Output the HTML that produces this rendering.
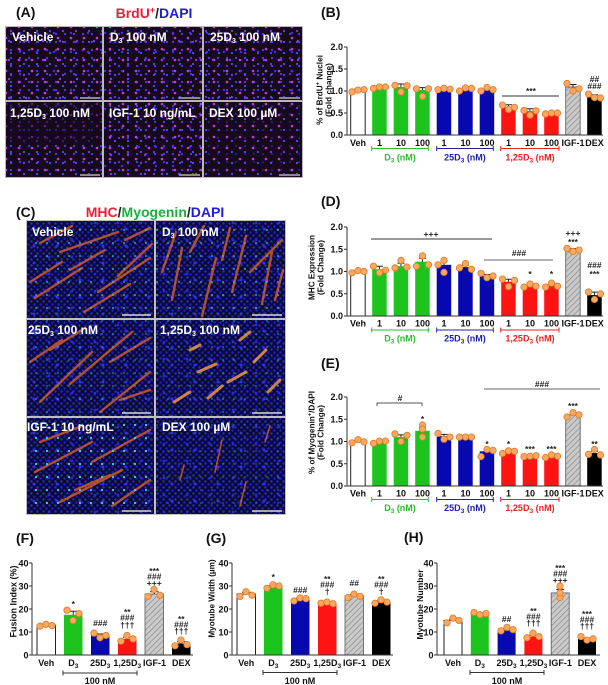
<!DOCTYPE html>
<html><head><meta charset="utf-8"><style>
html,body{margin:0;padding:0;background:#fff;}
svg{display:block;}
text{font-family:"Liberation Sans",Arial,sans-serif;font-weight:bold;}
.tk{font-size:9px;fill:#111;}
.tl{font-size:9px;fill:#111;text-anchor:end;}
.an{font-size:8.5px;fill:#222;text-anchor:middle;}
.wl{font-size:12px;fill:#fff;}
.pl{font-size:14px;fill:#111;}
.yl{font-size:8.2px;fill:#111;text-anchor:middle;}
.pt circle{fill:#f8a860;stroke:#e07a28;stroke-width:0.8;}
.ax{stroke:#333;stroke-width:1;fill:none;}
.st{stroke:#d8602c;stroke-width:2.4;stroke-linecap:round;fill:none;opacity:0.8;}
</style></head><body>
<svg xmlns="http://www.w3.org/2000/svg" width="608" height="685" viewBox="0 0 608 685">
<defs>
<pattern id="pa1" width="9" height="8" patternUnits="userSpaceOnUse"><circle cx="2" cy="2" r="1.1" fill="#4a3cff"/></pattern>
<pattern id="pa2" width="13" height="11" patternUnits="userSpaceOnUse"><circle cx="6" cy="5" r="1.3" fill="#c83ad0"/><circle cx="11" cy="9" r="1.1" fill="#5a44ff"/></pattern>
<pattern id="pa3" width="17" height="19" patternUnits="userSpaceOnUse"><circle cx="9" cy="3" r="1.2" fill="#7a38e8"/><circle cx="3" cy="14" r="1.2" fill="#3a30f0"/></pattern>
<pattern id="pc1" width="6" height="6" patternUnits="userSpaceOnUse"><rect width="6" height="6" fill="#0a0a34"/><circle cx="1.5" cy="1.5" r="1.2" fill="#2a2ae6"/><circle cx="4.5" cy="4.5" r="1.2" fill="#2222cc"/></pattern>
<pattern id="pc3" width="23" height="17" patternUnits="userSpaceOnUse"><circle cx="11" cy="8" r="1.5" fill="#3030f0"/><circle cx="3" cy="2" r="1.4" fill="#2828e0"/></pattern>
<pattern id="pc2" width="11" height="13" patternUnits="userSpaceOnUse"><circle cx="3" cy="9" r="1.1" fill="#40d8c8"/></pattern>
<pattern id="hatch" width="4" height="4" patternUnits="userSpaceOnUse" patternTransform="rotate(45)"><rect width="4" height="4" fill="#cacaca"/><line x1="0" y1="0" x2="0" y2="4" stroke="#8a8a8a" stroke-width="1.4"/></pattern>
</defs>

<!-- ===== Panel A ===== -->
<text class="pl" x="16" y="17">(A)</text>
<text x="154" y="18" font-size="14" text-anchor="middle"><tspan fill="#e8203a">BrdU</tspan><tspan fill="#e8203a" font-size="9" dy="-5">+</tspan><tspan fill="#222" dy="5">/</tspan><tspan fill="#2020d0">DAPI</tspan></text>
<rect x="5" y="26" width="298" height="152" fill="#b8b8b8"/>
<g>
<rect x="6" y="27" width="96" height="73" fill="#180a1e"/><rect x="6" y="27" width="96" height="73" fill="url(#pa1)"/><rect x="6" y="27" width="96" height="73" fill="url(#pa2)"/><rect x="6" y="27" width="96" height="73" fill="url(#pa3)"/>
<rect x="104" y="27" width="98" height="73" fill="#180a1e"/><rect x="104" y="27" width="98" height="73" fill="url(#pa1)"/><rect x="104" y="27" width="98" height="73" fill="url(#pa2)"/><rect x="104" y="27" width="98" height="73" fill="url(#pa3)"/>
<rect x="204" y="27" width="98" height="73" fill="#180a1e"/><rect x="204" y="27" width="98" height="73" fill="url(#pa1)"/><rect x="204" y="27" width="98" height="73" fill="url(#pa2)"/><rect x="204" y="27" width="98" height="73" fill="url(#pa3)"/>
<rect x="6" y="102" width="96" height="75" fill="#180a1e"/><rect x="6" y="102" width="96" height="75" fill="url(#pa1)"/><rect x="6" y="102" width="96" height="75" fill="url(#pa2)"/><rect x="6" y="102" width="96" height="40" fill="#180a1e" opacity="0.55"/>
<rect x="104" y="102" width="98" height="75" fill="#180a1e"/><rect x="104" y="102" width="98" height="75" fill="url(#pa1)"/><rect x="104" y="102" width="98" height="75" fill="url(#pa2)"/><rect x="104" y="102" width="98" height="75" fill="url(#pa3)"/>
<rect x="204" y="102" width="98" height="75" fill="#180a1e"/><rect x="204" y="102" width="98" height="75" fill="url(#pa2)"/><rect x="204" y="102" width="98" height="75" fill="url(#pa1)" opacity="0.4"/>
</g>
<g stroke="#8a8a8a" stroke-width="2">
<line x1="80" y1="98" x2="100" y2="98"/><line x1="179" y1="98" x2="200" y2="98"/><line x1="279" y1="98" x2="300" y2="98"/>
<line x1="80" y1="175" x2="100" y2="175"/><line x1="179" y1="175" x2="200" y2="175"/><line x1="279" y1="175" x2="300" y2="175"/>
</g>
<text class="wl" x="12" y="41">Vehicle</text>
<text class="wl" x="110" y="41">D<tspan font-size="7" dy="2">3</tspan><tspan dy="-2"> 100 nM</tspan></text>
<text class="wl" x="210" y="41">25D<tspan font-size="7" dy="2">3</tspan><tspan dy="-2"> 100 nM</tspan></text>
<text class="wl" x="10" y="117">1,25D<tspan font-size="7" dy="2">3</tspan><tspan dy="-2"> 100 nM</tspan></text>
<text class="wl" x="109" y="117">IGF-1 10 ng/mL</text>
<text class="wl" x="209" y="117">DEX 100 µM</text>

<!-- ===== Panel C ===== -->
<text class="pl" x="16" y="217">(C)</text>
<text x="155" y="217" font-size="14" text-anchor="middle"><tspan fill="#e8203a">MHC</tspan><tspan fill="#222">/</tspan><tspan fill="#18b040">Myogenin</tspan><tspan fill="#222">/</tspan><tspan fill="#2020d0">DAPI</tspan></text>
<rect x="26" y="220" width="260" height="295" fill="#c0c0c0"/>
<g>
<rect x="27" y="221" width="127" height="97" fill="url(#pc1)"/><rect x="27" y="221" width="127" height="97" fill="url(#pc3)"/>
<rect x="156" y="221" width="129" height="97" fill="url(#pc1)"/><rect x="156" y="221" width="129" height="97" fill="url(#pc3)"/>
<rect x="27" y="320" width="127" height="96" fill="url(#pc1)"/><rect x="27" y="320" width="127" height="96" fill="url(#pc3)"/>
<rect x="156" y="320" width="129" height="96" fill="url(#pc1)"/><rect x="156" y="320" width="129" height="96" fill="url(#pc3)"/>
<rect x="27" y="418" width="127" height="96" fill="url(#pc1)"/><rect x="27" y="418" width="127" height="96" fill="url(#pc3)"/>
<rect x="156" y="418" width="129" height="96" fill="url(#pc1)"/><rect x="156" y="418" width="129" height="96" fill="url(#pc3)"/>
</g>
<path class="st" d="M35 298 L82 268 M60 252 L118 232 M98 292 L150 258 M40 243 L72 226 M118 276 L152 244 M84 312 L130 284 M30 282 L62 262 M70 270 L105 250 M125 240 L150 228"/>
<path class="st" d="M172 300 L182 248 M202 316 L216 258 M232 292 L246 236 M262 304 L272 252 M190 252 L204 226 M250 272 L282 240 M162 272 L176 232 M222 260 L230 228 M275 300 L283 270"/>
<path class="st" d="M40 402 L92 352 M70 384 L132 332 M100 412 L150 372 M30 362 L62 340 M110 362 L150 338 M50 350 L85 328 M120 400 L150 390"/>
<path class="st" style="stroke:#ffa040;stroke-width:3" d="M198 372 L216 364 M228 382 L246 372 M254 362 L266 350 M208 398 L222 386 M174 402 L190 392 M268 392 L280 380 M240 340 L250 332 M190 350 L200 345"/>
<path class="st" d="M35 472 L92 442 M60 502 L122 470 M92 462 L150 430 M40 442 L82 426 M112 506 L150 480 M75 490 L110 475"/>
<path class="st" style="stroke-width:1.6" d="M215 472 L222 440 M240 506 L246 482 M265 442 L270 426 M180 480 L184 465"/>
<rect x="27" y="221" width="127" height="97" fill="url(#pc2)" opacity="0.6"/>
<rect x="156" y="221" width="129" height="97" fill="url(#pc2)" opacity="0.6"/>
<rect x="27" y="320" width="127" height="96" fill="url(#pc2)" opacity="0.4"/>
<rect x="156" y="320" width="129" height="96" fill="url(#pc2)" opacity="0.4"/>
<rect x="27" y="418" width="127" height="96" fill="url(#pc2)" opacity="1"/>
<rect x="156" y="418" width="129" height="96" fill="url(#pc2)" opacity="0.3"/>
<g stroke="#d8d8d8" stroke-width="1.5">
<line x1="122" y1="315" x2="151" y2="315"/><line x1="252" y1="315" x2="282" y2="315"/>
<line x1="122" y1="413" x2="151" y2="413"/><line x1="252" y1="413" x2="282" y2="413"/>
<line x1="122" y1="511" x2="151" y2="511"/><line x1="252" y1="511" x2="282" y2="511"/>
</g>
<text class="wl" x="32" y="236">Vehicle</text>
<text class="wl" x="162" y="236">D<tspan font-size="7" dy="2">3</tspan><tspan dy="-2"> 100 nM</tspan></text>
<text class="wl" x="28" y="334">25D<tspan font-size="7" dy="2">3</tspan><tspan dy="-2"> 100 nM</tspan></text>
<text class="wl" x="160" y="334">1,25D<tspan font-size="7" dy="2">3</tspan><tspan dy="-2"> 100 nM</tspan></text>
<text class="wl" x="27" y="431">IGF-1 10 ng/mL</text>
<text class="wl" x="162" y="431">DEX 100 µM</text>

<!-- ===== Panel B ===== -->
<text class="pl" x="321" y="17">(B)</text>
<text class="yl" transform="translate(322.5,90) rotate(-90)">% of BrdU<tspan font-size="5.8" dy="-3">+</tspan><tspan dy="3"> Nuclei</tspan></text>
<text class="yl" transform="translate(331.5,90) rotate(-90)">(Fold change)</text>
<g>
<rect x="350.7" y="90.1" width="14.5" height="44.9" fill="#fff" stroke="#222" stroke-width="1"/>
<rect x="372.2" y="87.5" width="14.5" height="47.5" fill="#1ec41e"/>
<rect x="393.7" y="87.0" width="14.5" height="48" fill="#1ec41e"/>
<rect x="415.2" y="90.1" width="14.5" height="44.9" fill="#1ec41e"/>
<rect x="436.7" y="89.2" width="14.5" height="45.8" fill="#0808b0"/>
<rect x="458.2" y="88.8" width="14.5" height="46.2" fill="#0808b0"/>
<rect x="479.7" y="89.7" width="14.5" height="45.3" fill="#0808b0"/>
<rect x="501.2" y="107.3" width="14.5" height="27.7" fill="#ff1414"/>
<rect x="522.7" y="111.2" width="14.5" height="23.8" fill="#ff1414"/>
<rect x="544.2" y="113.4" width="14.5" height="21.6" fill="#ff1414"/>
<rect x="565.7" y="87.0" width="14.5" height="48" fill="url(#hatch)" stroke="#555" stroke-width="0.8"/>
<rect x="587.2" y="97.2" width="14.5" height="37.8" fill="#000"/>
</g>
<path stroke="#222" stroke-width="1" fill="none" d="M357.95 90.1 V88.6 M354.5 88.6 H361.4 M379.45 87.5 V86 M376 86 H383 M400.95 87 V84 M397.5 84 H404.5 M422.45 90.1 V87.6 M419 87.6 H426 M443.95 89.2 V87.7 M440.5 87.7 H447.5 M465.45 88.8 V87.3 M462 87.3 H469 M486.95 89.7 V87.2 M483.5 87.2 H490.5 M508.45 107.3 V104.8 M505 104.8 H512 M529.95 111.2 V108.7 M526.5 108.7 H533.5 M551.45 113.4 V112.4 M548 112.4 H555 M572.95 87 V84.5 M569.5 84.5 H576.5 M594.45 97.2 V94.7 M591 94.7 H598"/>
<g class="pt">
<circle cx="352" cy="91.9" r="3.2"/><circle cx="358" cy="90.1" r="3.2"/><circle cx="364" cy="89.7" r="3.2"/>
<circle cx="373.5" cy="88.4" r="3.2"/><circle cx="379.5" cy="87" r="3.2"/><circle cx="385.5" cy="87" r="3.2"/>
<circle cx="395" cy="85.3" r="3.2"/><circle cx="401" cy="91.9" r="3.2"/><circle cx="407" cy="85.7" r="3.2"/>
<circle cx="416.5" cy="88.8" r="3.2"/><circle cx="422.5" cy="96.3" r="3.2"/><circle cx="428.5" cy="88.8" r="3.2"/>
<circle cx="438" cy="89.7" r="3.2"/><circle cx="444" cy="88.4" r="3.2"/><circle cx="450" cy="89.2" r="3.2"/>
<circle cx="459.5" cy="91" r="3.2"/><circle cx="465.5" cy="87.9" r="3.2"/><circle cx="471.5" cy="88.4" r="3.2"/>
<circle cx="481" cy="91" r="3.2"/><circle cx="487" cy="87.5" r="3.2"/><circle cx="493" cy="89.7" r="3.2"/>
<circle cx="502.5" cy="105.1" r="3.2"/><circle cx="508.5" cy="109.5" r="3.2"/><circle cx="514.5" cy="107.3" r="3.2"/>
<circle cx="524" cy="110.4" r="3.2"/><circle cx="530" cy="115.2" r="3.2"/><circle cx="536" cy="110.8" r="3.2"/>
<circle cx="545.5" cy="113.9" r="3.2"/><circle cx="551.5" cy="113" r="3.2"/><circle cx="557.5" cy="113" r="3.2"/>
<circle cx="567" cy="83.5" r="3.2"/><circle cx="573" cy="91" r="3.2"/><circle cx="579" cy="88.8" r="3.2"/>
<circle cx="588.5" cy="94.1" r="3.2"/><circle cx="594.5" cy="97.6" r="3.2"/><circle cx="600.5" cy="98" r="3.2"/>
</g>
<path class="ax" d="M347 47 V135 H603 M344 47 H347 M344 69 H347 M344 91 H347 M344 113 H347 M344 135 H347"/>
<text class="tl" x="343" y="50">2.0</text><text class="tl" x="343" y="72">1.5</text><text class="tl" x="343" y="94">1.0</text><text class="tl" x="343" y="116">0.5</text><text class="tl" x="343" y="138">0.0</text>
<g class="tk" text-anchor="middle">
<text x="358" y="146">Veh</text><text x="379.5" y="146">1</text><text x="401" y="146">10</text><text x="422.5" y="146">100</text>
<text x="444" y="146">1</text><text x="465.5" y="146">10</text><text x="487" y="146">100</text>
<text x="508.5" y="146">1</text><text x="530" y="146">10</text><text x="551.5" y="146">100</text>
<text x="573" y="146">IGF-1</text><text x="594.5" y="146">DEX</text>
</g>
<path stroke="#2bbd2b" stroke-width="1" fill="none" d="M371.7 148.5 H428.3 M371.7 146 V151 M428.3 146 V151"/>
<path stroke="#2020b0" stroke-width="1" fill="none" d="M436.7 148.5 H493.3 M436.7 146 V151 M493.3 146 V151"/>
<path stroke="#ee2020" stroke-width="1" fill="none" d="M500.7 148.5 H559 M500.7 146 V151 M559 146 V151"/>
<text class="tk" x="400" y="160.5" text-anchor="middle" style="fill:#2bbd2b">D<tspan font-size="6.5" dy="2">3</tspan><tspan dy="-2"> (nM)</tspan></text>
<text class="tk" x="465" y="160.5" text-anchor="middle" style="fill:#2020b0">25D<tspan font-size="6.5" dy="2">3</tspan><tspan dy="-2"> (nM)</tspan></text>
<text class="tk" x="530" y="160.5" text-anchor="middle" style="fill:#ee2020">1,25D<tspan font-size="6.5" dy="2">3</tspan><tspan dy="-2"> (nM)</tspan></text>
<line x1="502" y1="96" x2="559" y2="96" stroke="#333" stroke-width="1"/>
<text class="an" x="531" y="94">***</text>
<text class="an" x="594.5" y="82">##</text>
<text class="an" x="594.5" y="89">###</text>

<!-- ===== Panel D ===== -->
<text class="pl" x="321" y="206">(D)</text>
<text class="yl" transform="translate(314.5,267.5) rotate(-90)">MHC Expression</text>
<text class="yl" transform="translate(323.5,267.5) rotate(-90)">(Fold Change)</text>
<g>
<rect x="350.7" y="271.5" width="14.5" height="44.5" fill="#fff" stroke="#222" stroke-width="1"/>
<rect x="372.2" y="269.3" width="14.5" height="46.7" fill="#1ec41e"/>
<rect x="393.7" y="266.2" width="14.5" height="49.8" fill="#1ec41e"/>
<rect x="415.2" y="261.7" width="14.5" height="54.3" fill="#1ec41e"/>
<rect x="436.7" y="264.8" width="14.5" height="51.2" fill="#0808b0"/>
<rect x="458.2" y="267.1" width="14.5" height="48.9" fill="#0808b0"/>
<rect x="479.7" y="276.0" width="14.5" height="40" fill="#0808b0"/>
<rect x="501.2" y="281.7" width="14.5" height="34.3" fill="#ff1414"/>
<rect x="522.7" y="285.7" width="14.5" height="30.3" fill="#ff1414"/>
<rect x="544.2" y="285.7" width="14.5" height="30.3" fill="#ff1414"/>
<rect x="565.7" y="250.1" width="14.5" height="65.9" fill="url(#hatch)" stroke="#555" stroke-width="0.8"/>
<rect x="587.2" y="295.1" width="14.5" height="20.9" fill="#000"/>
</g>
<path stroke="#222" stroke-width="1" fill="none" d="M357.95 271.5 V270.5 M354.5 270.5 H361.4 M379.45 269.3 V266.3 M376 266.3 H383 M400.95 266.2 V263.2 M397.5 263.2 H404.5 M422.45 261.7 V258.2 M419 258.2 H426 M443.95 264.8 V260.8 M440.5 260.8 H447.5 M465.45 267.1 V265.1 M462 265.1 H469 M486.95 276 V274.5 M483.5 274.5 H490.5 M508.45 281.7 V279.2 M505 279.2 H512 M529.95 285.7 V284.2 M526.5 284.2 H533.5 M551.45 285.7 V284.2 M548 284.2 H555 M572.95 250.1 V248.6 M569.5 248.6 H576.5 M594.45 295.1 V292.1 M591 292.1 H598"/>
<g class="pt">
<circle cx="352" cy="272.8" r="3.2"/><circle cx="358" cy="270.6" r="3.2"/><circle cx="364" cy="271.5" r="3.2"/>
<circle cx="373.5" cy="266.2" r="3.2"/><circle cx="379.5" cy="272.8" r="3.2"/><circle cx="385.5" cy="270.2" r="3.2"/>
<circle cx="395" cy="267.9" r="3.2"/><circle cx="401" cy="260.4" r="3.2"/><circle cx="407" cy="267.1" r="3.2"/>
<circle cx="416.5" cy="266.2" r="3.2"/><circle cx="422.5" cy="255.9" r="3.2"/><circle cx="428.5" cy="264.8" r="3.2"/>
<circle cx="438" cy="264.8" r="3.2"/><circle cx="444" cy="260.4" r="3.2"/><circle cx="444" cy="272.4" r="3.2"/>
<circle cx="459.5" cy="267.9" r="3.2"/><circle cx="465.5" cy="263.5" r="3.2"/><circle cx="471.5" cy="269.3" r="3.2"/>
<circle cx="481" cy="273.3" r="3.2"/><circle cx="487" cy="277.7" r="3.2"/><circle cx="493" cy="276" r="3.2"/>
<circle cx="502.5" cy="279.1" r="3.2"/><circle cx="508.5" cy="286.6" r="3.2"/><circle cx="514.5" cy="280.4" r="3.2"/>
<circle cx="524" cy="287.1" r="3.2"/><circle cx="530" cy="284" r="3.2"/><circle cx="536" cy="286.2" r="3.2"/>
<circle cx="545.5" cy="287.1" r="3.2"/><circle cx="551.5" cy="283.1" r="3.2"/><circle cx="557.5" cy="286.2" r="3.2"/>
<circle cx="567" cy="248.4" r="3.2"/><circle cx="573" cy="251.5" r="3.2"/><circle cx="579" cy="250.1" r="3.2"/>
<circle cx="588.5" cy="292" r="3.2"/><circle cx="594.5" cy="299.5" r="3.2"/><circle cx="600.5" cy="293.8" r="3.2"/>
</g>
<path class="ax" d="M347 227 V316 H603 M344 227 H347 M344 249.25 H347 M344 271.5 H347 M344 293.75 H347 M344 316 H347"/>
<text class="tl" x="343" y="230">2.0</text><text class="tl" x="343" y="252.3">1.5</text><text class="tl" x="343" y="274.5">1.0</text><text class="tl" x="343" y="296.8">0.5</text><text class="tl" x="343" y="319">0.0</text>
<g class="tk" text-anchor="middle">
<text x="358" y="326.5">Veh</text><text x="379.5" y="326.5">1</text><text x="401" y="326.5">10</text><text x="422.5" y="326.5">100</text>
<text x="444" y="326.5">1</text><text x="465.5" y="326.5">10</text><text x="487" y="326.5">100</text>
<text x="508.5" y="326.5">1</text><text x="530" y="326.5">10</text><text x="551.5" y="326.5">100</text>
<text x="573" y="326.5">IGF-1</text><text x="594.5" y="326.5">DEX</text>
</g>
<path stroke="#2bbd2b" stroke-width="1" fill="none" d="M371.7 330 H428.3 M371.7 327.5 V332.5 M428.3 327.5 V332.5"/>
<path stroke="#2020b0" stroke-width="1" fill="none" d="M436.7 330 H493.3 M436.7 327.5 V332.5 M493.3 327.5 V332.5"/>
<path stroke="#ee2020" stroke-width="1" fill="none" d="M500.7 330 H559 M500.7 327.5 V332.5 M559 327.5 V332.5"/>
<text class="tk" x="400" y="341.5" text-anchor="middle" style="fill:#2bbd2b">D<tspan font-size="6.5" dy="2">3</tspan><tspan dy="-2"> (nM)</tspan></text>
<text class="tk" x="465" y="341.5" text-anchor="middle" style="fill:#2020b0">25D<tspan font-size="6.5" dy="2">3</tspan><tspan dy="-2"> (nM)</tspan></text>
<text class="tk" x="530" y="341.5" text-anchor="middle" style="fill:#ee2020">1,25D<tspan font-size="6.5" dy="2">3</tspan><tspan dy="-2"> (nM)</tspan></text>
<line x1="371" y1="239" x2="492" y2="239" stroke="#333" stroke-width="1"/>
<text class="an" x="431" y="237">+++</text>
<line x1="484" y1="260" x2="553" y2="260" stroke="#666" stroke-width="1"/>
<text class="an" x="519" y="256">###</text>
<text class="an" x="530" y="277">*</text>
<text class="an" x="551.5" y="277">*</text>
<text class="an" x="573" y="236">+++</text>
<text class="an" x="573" y="245">***</text>
<text class="an" x="594.5" y="268">###</text>
<text class="an" x="594.5" y="277">***</text>

<!-- ===== Panel E ===== -->
<text class="pl" x="321" y="368">(E)</text>
<text class="yl" transform="translate(314.5,432.5) rotate(-90)">% of Myogenin<tspan font-size="5.8" dy="-3">+</tspan><tspan dy="3">/DAPI</tspan></text>
<text class="yl" transform="translate(323.5,432.5) rotate(-90)">(Fold Change)</text>
<g>
<rect x="350.7" y="441.5" width="14.5" height="44.5" fill="#fff" stroke="#222" stroke-width="1"/>
<rect x="372.2" y="441.5" width="14.5" height="44.5" fill="#1ec41e"/>
<rect x="393.7" y="437.1" width="14.5" height="48.9" fill="#1ec41e"/>
<rect x="415.2" y="430.8" width="14.5" height="55.2" fill="#1ec41e"/>
<rect x="436.7" y="436.2" width="14.5" height="49.8" fill="#0808b0"/>
<rect x="458.2" y="437.1" width="14.5" height="48.9" fill="#0808b0"/>
<rect x="479.7" y="451.3" width="14.5" height="34.7" fill="#0808b0"/>
<rect x="501.2" y="451.7" width="14.5" height="34.3" fill="#ff1414"/>
<rect x="522.7" y="456.2" width="14.5" height="29.8" fill="#ff1414"/>
<rect x="544.2" y="456.2" width="14.5" height="29.8" fill="#ff1414"/>
<rect x="565.7" y="414.8" width="14.5" height="71.2" fill="url(#hatch)" stroke="#555" stroke-width="0.8"/>
<rect x="587.2" y="453.1" width="14.5" height="32.9" fill="#000"/>
</g>
<path stroke="#222" stroke-width="1" fill="none" d="M357.95 441.5 V440.2 M354.5 440.2 H361.4 M379.45 441.5 V441 M376 441 H383 M400.95 437.1 V434.9 M397.5 434.9 H404.5 M422.45 430.8 V427.8 M419 427.8 H426 M443.95 436.2 V434.4 M440.5 434.4 H447.5 M465.45 437.1 V436.6 M462 436.6 H469 M486.95 451.3 V449.1 M483.5 449.1 H490.5 M508.45 451.7 V450.7 M505 450.7 H512 M529.95 456.2 V455.7 M526.5 455.7 H533.5 M551.45 456.2 V455.2 M548 455.2 H555 M572.95 414.8 V413.3 M569.5 413.3 H576.5 M594.45 453.1 V451.3 M591 451.3 H598"/>
<g class="pt">
<circle cx="352" cy="442.8" r="3.2"/><circle cx="358" cy="439.7" r="3.2"/><circle cx="364" cy="441.9" r="3.2"/>
<circle cx="373.5" cy="443.3" r="3.2"/><circle cx="379.5" cy="441.1" r="3.2"/><circle cx="385.5" cy="441.1" r="3.2"/>
<circle cx="395" cy="433.9" r="3.2"/><circle cx="401" cy="441.5" r="3.2"/><circle cx="407" cy="435.3" r="3.2"/>
<circle cx="422.5" cy="425" r="3.2"/><circle cx="422.5" cy="437.1" r="3.2"/><circle cx="422.5" cy="429" r="3.2"/>
<circle cx="438" cy="433.5" r="3.2"/><circle cx="444" cy="439.3" r="3.2"/><circle cx="450" cy="437.1" r="3.2"/>
<circle cx="459.5" cy="437.1" r="3.2"/><circle cx="465.5" cy="437.1" r="3.2"/><circle cx="471.5" cy="437.1" r="3.2"/>
<circle cx="481" cy="456.6" r="3.2"/><circle cx="487" cy="449.5" r="3.2"/><circle cx="493" cy="450.4" r="3.2"/>
<circle cx="502.5" cy="453.5" r="3.2"/><circle cx="508.5" cy="450.8" r="3.2"/><circle cx="514.5" cy="451.3" r="3.2"/>
<circle cx="524" cy="456.6" r="3.2"/><circle cx="530" cy="456.2" r="3.2"/><circle cx="536" cy="455.7" r="3.2"/>
<circle cx="545.5" cy="457.5" r="3.2"/><circle cx="551.5" cy="454.9" r="3.2"/><circle cx="557.5" cy="456.2" r="3.2"/>
<circle cx="567" cy="417" r="3.2"/><circle cx="573" cy="412.6" r="3.2"/><circle cx="579" cy="414.8" r="3.2"/>
<circle cx="588.5" cy="454.4" r="3.2"/><circle cx="594.5" cy="449.5" r="3.2"/><circle cx="600.5" cy="454.9" r="3.2"/>
</g>
<path class="ax" d="M347 397 V486 H603 M344 397 H347 M344 419.25 H347 M344 441.5 H347 M344 463.75 H347 M344 486 H347"/>
<text class="tl" x="343" y="400">2.0</text><text class="tl" x="343" y="422.3">1.5</text><text class="tl" x="343" y="444.5">1.0</text><text class="tl" x="343" y="466.8">0.5</text><text class="tl" x="343" y="489">0.0</text>
<g class="tk" text-anchor="middle">
<text x="358" y="496.5">Veh</text><text x="379.5" y="496.5">1</text><text x="401" y="496.5">10</text><text x="422.5" y="496.5">100</text>
<text x="444" y="496.5">1</text><text x="465.5" y="496.5">10</text><text x="487" y="496.5">100</text>
<text x="508.5" y="496.5">1</text><text x="530" y="496.5">10</text><text x="551.5" y="496.5">100</text>
<text x="573" y="496.5">IGF-1</text><text x="594.5" y="496.5">DEX</text>
</g>
<path stroke="#2bbd2b" stroke-width="1" fill="none" d="M371.7 499.5 H428.3 M371.7 497 V502 M428.3 497 V502"/>
<path stroke="#2020b0" stroke-width="1" fill="none" d="M436.7 499.5 H493.3 M436.7 497 V502 M493.3 497 V502"/>
<path stroke="#ee2020" stroke-width="1" fill="none" d="M500.7 499.5 H559 M500.7 497 V502 M559 497 V502"/>
<text class="tk" x="400" y="511" text-anchor="middle" style="fill:#2bbd2b">D<tspan font-size="6.5" dy="2">3</tspan><tspan dy="-2"> (nM)</tspan></text>
<text class="tk" x="465" y="511" text-anchor="middle" style="fill:#2020b0">25D<tspan font-size="6.5" dy="2">3</tspan><tspan dy="-2"> (nM)</tspan></text>
<text class="tk" x="530" y="511" text-anchor="middle" style="fill:#ee2020">1,25D<tspan font-size="6.5" dy="2">3</tspan><tspan dy="-2"> (nM)</tspan></text>
<line x1="484" y1="389" x2="600" y2="389" stroke="#666" stroke-width="1"/>
<text class="an" x="542" y="387">###</text>
<path stroke="#555" stroke-width="1" fill="none" d="M377 406 V403 H422 V406"/>
<text class="an" x="400" y="401">#</text>
<text class="an" x="422.5" y="422">*</text>
<text class="an" x="487" y="447">*</text>
<text class="an" x="508.5" y="447">*</text>
<text class="an" x="530" y="452">***</text>
<text class="an" x="551.5" y="452">***</text>
<text class="an" x="573" y="409">***</text>
<text class="an" x="594.5" y="447">**</text>

<!-- ===== Panel F ===== -->
<text class="pl" x="16" y="543">(F)</text>
<text class="yl" transform="translate(16.5,601.5) rotate(-90)" style="font-size:9px">Fusion Index (%)</text>
<rect x="37" y="625.1" width="18.5" height="29.9" fill="#fff" stroke="#222" stroke-width="1"/>
<rect x="64" y="614.75" width="18.5" height="40.25" fill="#1ec41e"/>
<rect x="91" y="635.45" width="18.5" height="19.55" fill="#0808b0"/>
<rect x="118" y="638.9" width="18.5" height="16.1" fill="#ff1414"/>
<rect x="145" y="594.05" width="18.5" height="60.95" fill="url(#hatch)" stroke="#555" stroke-width="0.8"/>
<rect x="172" y="643.5" width="18.5" height="11.5" fill="#000"/>
<path stroke="#222" stroke-width="1" fill="none" d="M46.25 625.1 V623.9 M42 623.9 H50.5 M73.25 614.75 V611.25 M69 611.25 H77.5 M100.25 635.45 V634 M96 634 H104.5 M127.25 638.9 V637.1 M123 637.1 H131.5 M154.25 594.05 V591.75 M150 591.75 H158.5 M181.25 643.5 V641.7 M177 641.7 H185.5"/>
<g class="pt">
<circle cx="40" cy="626.25" r="3.2"/><circle cx="46" cy="624.4" r="3.2"/><circle cx="52" cy="625.6" r="3.2"/>
<circle cx="67" cy="610.15" r="3.2"/><circle cx="73" cy="620.5" r="3.2"/><circle cx="79" cy="613.6" r="3.2"/>
<circle cx="94" cy="633.15" r="3.2"/><circle cx="100" cy="637.75" r="3.2"/><circle cx="106" cy="635.45" r="3.2"/>
<circle cx="121" cy="641.2" r="3.2"/><circle cx="127" cy="635.45" r="3.2"/><circle cx="133" cy="638.9" r="3.2"/>
<circle cx="148" cy="596.35" r="3.2"/><circle cx="154" cy="589.45" r="3.2"/><circle cx="160" cy="595.2" r="3.2"/>
<circle cx="175" cy="645.8" r="3.2"/><circle cx="181" cy="640.05" r="3.2"/><circle cx="187" cy="644.65" r="3.2"/>
</g>
<path class="ax" d="M32 563 V655 H193 M29 563 H32 M29 586 H32 M29 609 H32 M29 632 H32 M29 655 H32"/>
<text class="tl" x="28.5" y="566.5">40</text><text class="tl" x="28.5" y="589.5">30</text><text class="tl" x="28.5" y="612.5">20</text><text class="tl" x="28.5" y="635.5">10</text><text class="tl" x="28.5" y="658.5">0</text>
<g class="tk" text-anchor="middle">
<text x="46.25" y="666">Veh</text>
<text x="73.25" y="666">D<tspan font-size="6.5" dy="2">3</tspan></text>
<text x="100.25" y="666">25D<tspan font-size="6.5" dy="2">3</tspan></text>
<text x="127.25" y="666">1,25D<tspan font-size="6.5" dy="2">3</tspan></text>
<text x="154.5" y="666">IGF-1</text>
<text x="181.25" y="666">DEX</text>
</g>
<path stroke="#333" stroke-width="1" fill="none" d="M63 673 H137 M63 670.5 V675.5 M137 670.5 V675.5"/>
<text class="tk" x="100" y="684" text-anchor="middle">100 nM</text>
<text class="an" x="73.25" y="607">*</text>
<text class="an" x="100.25" y="626">###</text>
<text class="an" x="127.25" y="615">**</text><text class="an" x="127.25" y="620.5">###</text><text class="an" x="127.25" y="628">†††</text>
<text class="an" x="154.25" y="574">***</text><text class="an" x="154.25" y="579.5">###</text><text class="an" x="154.25" y="586">+++</text>
<text class="an" x="181.25" y="622">**</text><text class="an" x="181.25" y="627.5">###</text><text class="an" x="181.25" y="634">†††</text>

<!-- ===== Panel G ===== -->
<text class="pl" x="206" y="543">(G)</text>
<text class="yl" transform="translate(214.5,598.5) rotate(-90)" style="font-size:8.2px">Myotube Width (µm)</text>
<rect x="237" y="594.05" width="18.5" height="60.95" fill="#fff" stroke="#222" stroke-width="1"/>
<rect x="264" y="586.5" width="18.5" height="68.5" fill="#1ec41e"/>
<rect x="291" y="599.3" width="18.5" height="55.7" fill="#0808b0"/>
<rect x="318" y="603.7" width="18.5" height="51.3" fill="#ff1414"/>
<rect x="345" y="595.7" width="18.5" height="59.3" fill="url(#hatch)" stroke="#555" stroke-width="0.8"/>
<rect x="372" y="602.1" width="18.5" height="52.9" fill="#000"/>
<path stroke="#222" stroke-width="1" fill="none" d="M246.25 594.05 V592.25 M242 592.25 H250.5 M273.25 586.5 V585.5 M269 585.5 H277.5 M300.25 599.3 V598.3 M296 598.3 H304.5 M327.25 603.7 V602.9 M323 602.9 H331.5 M354.25 595.7 V594.7 M350 594.7 H358.5 M381.25 602.1 V600.7 M377 600.7 H385.5"/>
<g class="pt">
<circle cx="240" cy="596.4" r="3.2"/><circle cx="246" cy="591.75" r="3.2"/><circle cx="252" cy="595.2" r="3.2"/>
<circle cx="267" cy="588.3" r="3.2"/><circle cx="273" cy="584.85" r="3.2"/><circle cx="279" cy="586" r="3.2"/>
<circle cx="294" cy="600.95" r="3.2"/><circle cx="300" cy="597.96" r="3.2"/><circle cx="306" cy="598.65" r="3.2"/>
<circle cx="321" cy="603.25" r="3.2"/><circle cx="327" cy="602.1" r="3.2"/><circle cx="333" cy="603.7" r="3.2"/>
<circle cx="348" cy="597.5" r="3.2"/><circle cx="354" cy="594.05" r="3.2"/><circle cx="360" cy="596.35" r="3.2"/>
<circle cx="375" cy="603.25" r="3.2"/><circle cx="381" cy="599.8" r="3.2"/><circle cx="387" cy="602.1" r="3.2"/>
</g>
<path class="ax" d="M232 563 V655 H393 M229 563 H232 M229 586 H232 M229 609 H232 M229 632 H232 M229 655 H232"/>
<text class="tl" x="228.5" y="566.5">40</text><text class="tl" x="228.5" y="589.5">30</text><text class="tl" x="228.5" y="612.5">20</text><text class="tl" x="228.5" y="635.5">10</text><text class="tl" x="228.5" y="658.5">0</text>
<g class="tk" text-anchor="middle">
<text x="246.25" y="666">Veh</text>
<text x="273.25" y="666">D<tspan font-size="6.5" dy="2">3</tspan></text>
<text x="300.25" y="666">25D<tspan font-size="6.5" dy="2">3</tspan></text>
<text x="327.25" y="666">1,25D<tspan font-size="6.5" dy="2">3</tspan></text>
<text x="354.5" y="666">IGF-1</text>
<text x="381.25" y="666">DEX</text>
</g>
<path stroke="#333" stroke-width="1" fill="none" d="M263 672.5 H337 M263 670 V675 M337 670 V675"/>
<text class="tk" x="300" y="684" text-anchor="middle">100 nM</text>
<text class="an" x="273.25" y="580">*</text>
<text class="an" x="300.25" y="593">###</text>
<text class="an" x="327.25" y="582">**</text><text class="an" x="327.25" y="587.5">###</text><text class="an" x="327.25" y="594.5">†</text>
<text class="an" x="354.25" y="586">##</text>
<text class="an" x="381.25" y="582">**</text><text class="an" x="381.25" y="587.5">###</text><text class="an" x="381.25" y="594.5">†</text>

<!-- ===== Panel H ===== -->
<text class="pl" x="404" y="542">(H)</text>
<text class="yl" transform="translate(423,604.5) rotate(-90)" style="font-size:8.6px">Myotube Number</text>
<rect x="444" y="620.5" width="18" height="34.5" fill="#fff" stroke="#222" stroke-width="1"/>
<rect x="470.8" y="613.6" width="18" height="41.4" fill="#1ec41e"/>
<rect x="497.6" y="629.7" width="18" height="25.3" fill="#0808b0"/>
<rect x="524.4" y="636.6" width="18" height="18.4" fill="#ff1414"/>
<rect x="551.2" y="592.9" width="18" height="62.1" fill="url(#hatch)" stroke="#555" stroke-width="0.8"/>
<rect x="578" y="638.9" width="18" height="16.1" fill="#000"/>
<path stroke="#222" stroke-width="1" fill="none" d="M453 620.5 V619.1 M449 619.1 H457 M479.8 613.6 V612.9 M475.8 612.9 H483.8 M506.6 629.7 V628.5 M502.6 628.5 H510.6 M533.4 636.6 V635.2 M529.4 635.2 H537.4 M560.2 592.9 V589.4 M556.2 589.4 H564.2 M587 638.9 V638.2 M583 638.2 H591"/>
<g class="pt">
<circle cx="447" cy="622.8" r="3.2"/><circle cx="453" cy="618.2" r="3.2"/><circle cx="459" cy="620.5" r="3.2"/>
<circle cx="474" cy="612.45" r="3.2"/><circle cx="480" cy="614.75" r="3.2"/><circle cx="486" cy="613.6" r="3.2"/>
<circle cx="501" cy="630.85" r="3.2"/><circle cx="507" cy="627.4" r="3.2"/><circle cx="513" cy="629.7" r="3.2"/>
<circle cx="527" cy="637.75" r="3.2"/><circle cx="533" cy="633.15" r="3.2"/><circle cx="539" cy="636.6" r="3.2"/>
<circle cx="560" cy="586" r="3.2"/><circle cx="560" cy="597.5" r="3.2"/><circle cx="560" cy="592.9" r="3.2"/>
<circle cx="581" cy="636.6" r="3.2"/><circle cx="587" cy="640.05" r="3.2"/><circle cx="593" cy="638.9" r="3.2"/>
</g>
<path class="ax" d="M437 563 V655 H600 M434 563 H437 M434 586 H437 M434 609 H437 M434 632 H437 M434 655 H437"/>
<text class="tl" x="433.5" y="566.5">40</text><text class="tl" x="433.5" y="589.5">30</text><text class="tl" x="433.5" y="612.5">20</text><text class="tl" x="433.5" y="635.5">10</text><text class="tl" x="433.5" y="658.5">0</text>
<g class="tk" text-anchor="middle">
<text x="453" y="666">Veh</text>
<text x="479.8" y="666">D<tspan font-size="6.5" dy="2">3</tspan></text>
<text x="506.6" y="666">25D<tspan font-size="6.5" dy="2">3</tspan></text>
<text x="533.4" y="666">1,25D<tspan font-size="6.5" dy="2">3</tspan></text>
<text x="560.4" y="666">IGF-1</text>
<text x="587" y="666">DEX</text>
</g>
<path stroke="#333" stroke-width="1" fill="none" d="M470 672.5 H544 M470 670 V675 M544 670 V675"/>
<text class="tk" x="507" y="684" text-anchor="middle">100 nM</text>
<text class="an" x="506.6" y="622">##</text>
<text class="an" x="533.4" y="614">**</text><text class="an" x="533.4" y="619.5">###</text><text class="an" x="533.4" y="626">†††</text>
<text class="an" x="560.2" y="571">***</text><text class="an" x="560.2" y="576.5">###</text><text class="an" x="560.2" y="583">+++</text>
<text class="an" x="587" y="617">***</text><text class="an" x="587" y="622.5">###</text><text class="an" x="587" y="629">†††</text>
</svg>
</body></html>
